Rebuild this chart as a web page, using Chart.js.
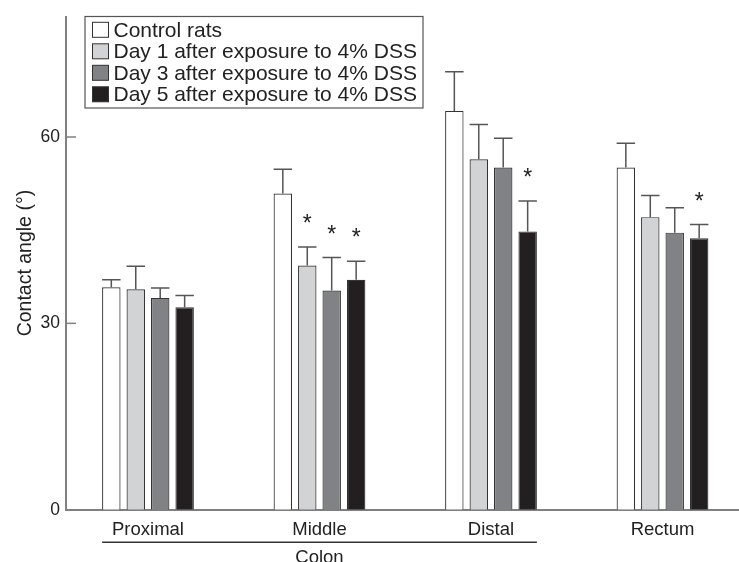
<!DOCTYPE html>
<html>
<head>
<meta charset="utf-8">
<script src="https://cdn.jsdelivr.net/npm/chart.js@4.4.1/dist/chart.umd.min.js"></script>
<style>
  html, body { margin: 0; padding: 0; background: #fff; overflow: hidden; }
</style>
</head>
<body>
<canvas id="myChart" width="739" height="562"></canvas>
<script>
// categories along the x axis
var regions = ["Proximal", "Middle", "Distal", "Rectum"];
var colonRegions = ["Proximal", "Middle", "Distal"];

// legend labels
var seriesNames = [
  "Control rats",
  "Day 1 after exposure to 4% DSS",
  "Day 3 after exposure to 4% DSS",
  "Day 5 after exposure to 4% DSS"
];

// mean contact angle (degrees)
var control = [35.8, 50.9, 64.2, 55.1];
var day1    = [35.5, 39.3, 56.4, 47.1];
var day3    = [34.1, 35.3, 55.1, 44.6];
var day5    = [32.6, 37.0, 44.8, 43.7];

// error (upper bar only)
var controlErr = [1.2, 3.9, 6.3, 3.9];
var day1Err    = [3.7, 3.0, 5.6, 3.5];
var day3Err    = [1.6, 5.3, 4.7, 4.0];
var day5Err    = [1.9, 3.0, 4.9, 2.2];

// significance marks (*)
var controlStar = [false, false, false, false];
var day1Star    = [false, true, false, false];
var day3Star    = [false, true, false, false];
var day5Star    = [false, true, true, true];

var yTicks = [0, 30, 60];
var yTitle = "Contact angle (\u00b0)";
var groupTitle = "Colon";

var fillColors = ["#ffffff", "#d1d3d4", "#808285", "#231f20"];

function toPoints(vals) {
  return vals.map(function(v, i) { return { x: i, y: v }; });
}

var allValues = [control, day1, day3, day5];
var allErrors = [controlErr, day1Err, day3Err, day5Err];
var allStars = [controlStar, day1Star, day3Star, day5Star];

var datasets = allValues.map(function(vals, k) {
  return {
    label: seriesNames[k],
    data: toPoints(vals),
    errors: allErrors[k],
    stars: allStars[k],
    backgroundColor: fillColors[k],
    borderColor: "#333333",
    borderWidth: 1.2,
    categoryPercentage: 0.57,
    barPercentage: 0.755
  };
});

var FONT = "'Liberation Sans', Arial, Helvetica, sans-serif";

var extrasPlugin = {
  id: "extras",
  afterDatasetsDraw: function(chart) {
    var ctx = chart.ctx;
    var ys = chart.scales.y;
    var area = chart.chartArea;
    ctx.save();

    // inward tick marks on the y axis
    ctx.strokeStyle = "#808080";
    ctx.lineWidth = 1.5;
    ys.ticks.forEach(function(t) {
      if (t.value === 0) return;
      var py = ys.getPixelForValue(t.value);
      ctx.beginPath();
      ctx.moveTo(area.left, py);
      ctx.lineTo(area.left + 10, py);
      ctx.stroke();
    });

    // error bars and asterisks
    chart.data.datasets.forEach(function(ds, di) {
      var meta = chart.getDatasetMeta(di);
      meta.data.forEach(function(bar, i) {
        var topY = ys.getPixelForValue(ds.data[i].y + ds.errors[i]);
        var half = bar.width / 2;
        ctx.strokeStyle = "#555555";
        ctx.lineWidth = 1.5;
        ctx.beginPath();
        ctx.moveTo(bar.x, bar.y);
        ctx.lineTo(bar.x, topY);
        ctx.moveTo(bar.x - half, topY);
        ctx.lineTo(bar.x + half, topY);
        ctx.stroke();
        if (ds.stars[i]) {
          ctx.fillStyle = "#222222";
          ctx.font = "23px " + FONT;
          ctx.textAlign = "center";
          ctx.textBaseline = "alphabetic";
          ctx.fillText("*", bar.x, topY - 16);
        }
      });
    });

    // "Colon" grouping line under the first three categories
    var first = chart.getDatasetMeta(0).data[regions.indexOf(colonRegions[0])];
    var lastMeta = chart.getDatasetMeta(chart.data.datasets.length - 1);
    var last = lastMeta.data[regions.indexOf(colonRegions[colonRegions.length - 1])];
    var x0 = first.x - first.width / 2;
    var x1 = last.x + last.width / 2;
    var lineY = area.bottom + 32.5;
    ctx.strokeStyle = "#333333";
    ctx.lineWidth = 1.5;
    ctx.beginPath();
    ctx.moveTo(x0, lineY);
    ctx.lineTo(x1, lineY);
    ctx.stroke();
    ctx.fillStyle = "#222222";
    ctx.font = "18.5px " + FONT;
    ctx.textAlign = "center";
    ctx.textBaseline = "middle";
    ctx.fillText(groupTitle, (x0 + x1) / 2, lineY + 16);

    // legend box
    var lx = area.left + 19, ly = area.top, lw = 338, lh = 91.5;
    ctx.strokeStyle = "#555555";
    ctx.lineWidth = 1.2;
    ctx.strokeRect(lx, ly, lw, lh);
    ctx.font = "21px " + FONT;
    ctx.textAlign = "left";
    ctx.textBaseline = "middle";
    chart.data.datasets.forEach(function(ds, di) {
      var cy = ly + 13.3 + di * 21.5;
      ctx.fillStyle = ds.backgroundColor;
      ctx.fillRect(lx + 7.5, cy - 7.5, 16, 15);
      ctx.strokeStyle = "#333333";
      ctx.lineWidth = 1;
      ctx.strokeRect(lx + 7.5, cy - 7.5, 16, 15);
      ctx.fillStyle = "#222222";
      ctx.fillText(ds.label, lx + 28.5, cy + 1);
    });

    ctx.restore();
  }
};

var ctx = document.getElementById("myChart").getContext("2d");
var myChart = new Chart(ctx, {
  type: "bar",
  data: { datasets: datasets },
  plugins: [extrasPlugin],
  options: {
    responsive: false,
    animation: false,
    layout: { padding: { top: 13, left: 0, right: 0, bottom: 0 } },
    plugins: {
      legend: { display: false },
      tooltip: { enabled: false }
    },
    scales: {
      x: {
        type: "linear",
        offset: false,
        min: -0.478,
        max: 3.446,
        afterFit: function(scale) { scale.height = 52.3; },
        grid: { display: false, drawTicks: false, offset: false },
        border: { display: true, color: "#808080", width: 2 },
        ticks: {
          stepSize: 1,
          includeBounds: false,
          padding: 9,
          color: "#222222",
          font: { family: FONT, size: 18.5 },
          callback: function(v) { return regions[v]; }
        }
      },
      y: {
        min: 0,
        max: 79.4,
        afterFit: function(scale) { scale.width = 66; },
        grid: { display: false, drawTicks: false },
        border: { display: true, color: "#808080", width: 2 },
        afterBuildTicks: function(scale) {
          scale.ticks = yTicks.map(function(v) { return { value: v }; });
        },
        ticks: {
          padding: 6,
          color: "#222222",
          font: { family: FONT, size: 17.5 }
        },
        title: {
          display: true,
          text: yTitle,
          color: "#222222",
          font: { family: FONT, size: 19.5 },
          padding: { top: 14, bottom: 0 }
        }
      }
    }
  }
});
</script>
</body>
</html>
